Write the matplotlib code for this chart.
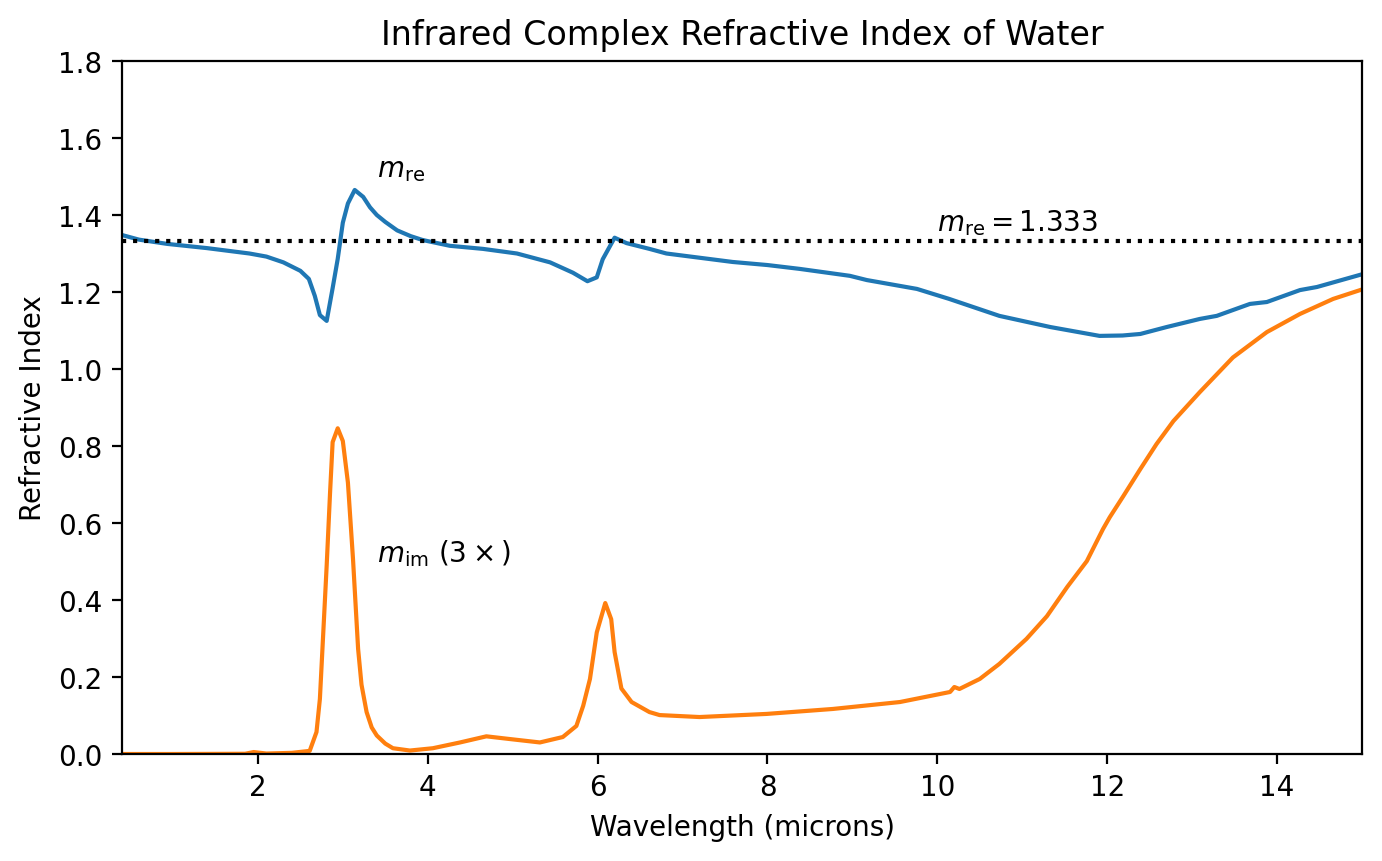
import numpy as np
import matplotlib.pyplot as plt

lam_re = [0.4, 0.6, 0.93, 1.4, 1.9, 2.1, 2.3, 2.5, 2.6, 2.67, 2.73, 2.81, 2.88,
          2.94, 3.0, 3.06, 3.14, 3.24, 3.32, 3.4, 3.5, 3.64, 3.8, 3.94, 4.26,
          4.65, 5.05, 5.44, 5.71, 5.88, 5.99, 6.06, 6.2, 6.34, 6.61, 6.81, 7.2,
          7.59, 8.0, 8.38, 8.97, 9.17, 9.76, 10.14, 10.73, 11.33, 11.91, 12.18,
          12.39, 12.7, 13.09, 13.29, 13.68, 13.88, 14.27, 14.47, 15.0]
m_re = [1.348, 1.336, 1.325, 1.314, 1.300, 1.292, 1.277, 1.255, 1.234, 1.190,
        1.140, 1.125, 1.210, 1.286, 1.380, 1.430, 1.465, 1.447, 1.420, 1.400,
        1.382, 1.360, 1.345, 1.335, 1.320, 1.312, 1.300, 1.277, 1.250, 1.228,
        1.238, 1.285, 1.341, 1.327, 1.312, 1.300, 1.289, 1.278, 1.270, 1.260,
        1.242, 1.231, 1.208, 1.182, 1.138, 1.109, 1.086, 1.087, 1.091, 1.109,
        1.130, 1.138, 1.169, 1.174, 1.205, 1.213, 1.246]

# imaginary part of the refractive index (plotted three times larger)
lam_im = [0.4, 1.0, 1.45, 1.85, 1.95, 2.1, 2.4, 2.61, 2.69, 2.73, 2.77, 2.81,
          2.85, 2.88, 2.94, 3.0, 3.06, 3.12, 3.18, 3.22, 3.28, 3.34, 3.4, 3.5,
          3.59, 3.79, 4.06, 4.38, 4.69, 4.96, 5.32, 5.59, 5.75, 5.83, 5.91,
          5.99, 6.09, 6.16, 6.2, 6.28, 6.4, 6.61, 6.73, 7.2, 7.99, 8.77, 9.56,
          10.15, 10.2, 10.26, 10.5, 10.73, 11.05, 11.29, 11.53, 11.76, 11.95,
          12.03, 12.19, 12.39, 12.58, 12.78, 13.09, 13.48, 13.88, 14.27, 14.66,
          14.98]
m_im = [0.0000, 0.0000, 0.0001, 0.0002, 0.0017, 0.0004, 0.0010, 0.0027,
        0.0190, 0.0477, 0.1053, 0.1633, 0.2267, 0.2700, 0.2820, 0.2710,
        0.2350, 0.1687, 0.0910, 0.0600, 0.0363, 0.0230, 0.0160, 0.0090,
        0.0050, 0.0030, 0.0050, 0.0100, 0.0153, 0.0130, 0.0100, 0.0147,
        0.0243, 0.0417, 0.0650, 0.1053, 0.1307, 0.1167, 0.0883, 0.0567,
        0.0450, 0.0363, 0.0337, 0.0320, 0.0347, 0.0390, 0.0450, 0.0537,
        0.0580, 0.0563, 0.0650, 0.0780, 0.0997, 0.1193, 0.1447, 0.1670,
        0.1947, 0.2050, 0.2233, 0.2467, 0.2683, 0.2883, 0.3133, 0.3433,
        0.3653, 0.3810, 0.3940, 0.4017]

fig = plt.figure(figsize=(6.91, 4.31), dpi=200)
ax = fig.add_axes([122/1382, 107/862, 1240/1382, 693/862])

ax.plot(lam_re, m_re)
ax.plot(lam_im, 3 * np.array(m_im))
ax.axhline(1.333, color='black', ls=':')

ax.text(3.4, 1.5, r'$m_\mathrm{re}$')
ax.text(3.4, 0.5, r'$m_\mathrm{im}\ (3\times)$')
ax.text(10, 1.36, r'$m_\mathrm{re}=1.333$')

ax.set_xlim(0.4, 15)
ax.set_ylim(0, 1.8)
ax.set_xlabel('Wavelength (microns)')
ax.set_ylabel('Refractive Index')
ax.set_title('Infrared Complex Refractive Index of Water')

fig.savefig('out.png', dpi=200)
